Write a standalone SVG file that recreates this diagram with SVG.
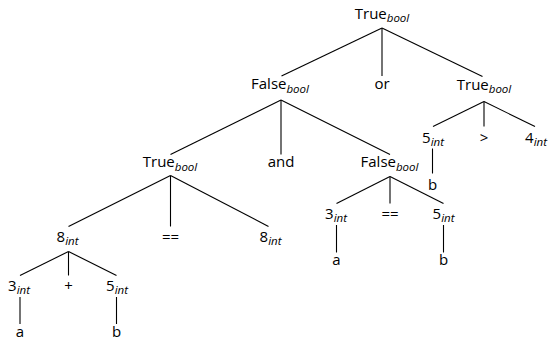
<svg xmlns="http://www.w3.org/2000/svg" width="549" height="339" viewBox="0 0 549 339">
  <style>
    text { font-family: "Open Sans", "Noto Sans", "Liberation Sans", sans-serif; font-size: 15px; fill: #000; text-anchor: middle; }
    .sub { font-style: italic; font-size: 11.5px; }
    .edges line { stroke: #000; stroke-width: 1.1; fill: none; }
  </style>
  <rect width="549" height="339" fill="#fff"/>

  <g id="edges" class="edges">
    <!-- root -->
    <line x1="382" y1="28" x2="281.5" y2="76"/>
    <line x1="382" y1="28" x2="382" y2="76"/>
    <line x1="382" y1="28" x2="482.5" y2="76.5"/>
    <!-- False (or-left) -->
    <line x1="281" y1="100" x2="170.5" y2="154.5"/>
    <line x1="281" y1="100" x2="281" y2="154.5"/>
    <line x1="281" y1="100" x2="390" y2="154.5"/>
    <!-- True (or-right) -->
    <line x1="484" y1="101.5" x2="433" y2="126.5"/>
    <line x1="484" y1="101.5" x2="484" y2="126.5"/>
    <line x1="484" y1="101.5" x2="535" y2="126.5"/>
    <line x1="432.5" y1="148.5" x2="432.5" y2="173.5"/>
    <!-- True (and-left) -->
    <line x1="170.5" y1="175.5" x2="68.5" y2="226.5"/>
    <line x1="170.5" y1="175.5" x2="170.5" y2="226.5"/>
    <line x1="170.5" y1="175.5" x2="268.5" y2="226.5"/>
    <!-- 8 = 3 + 5 -->
    <line x1="68.5" y1="251.5" x2="20" y2="275.5"/>
    <line x1="68.5" y1="251.5" x2="68.5" y2="275.5"/>
    <line x1="68.5" y1="251.5" x2="116.5" y2="275.5"/>
    <line x1="20" y1="297" x2="20" y2="324"/>
    <line x1="116.5" y1="297" x2="116.5" y2="324"/>
    <!-- False (and-right) -->
    <line x1="390" y1="176.5" x2="336.5" y2="203.5"/>
    <line x1="390" y1="176.5" x2="390" y2="203.5"/>
    <line x1="390" y1="176.5" x2="443.5" y2="203.5"/>
    <line x1="336.5" y1="225" x2="336.5" y2="252.5"/>
    <line x1="443.5" y1="225" x2="443.5" y2="252.5"/>
  </g>

  <g id="n-root"><text x="382" y="18.5">True<tspan class="sub" dy="3.5">bool</tspan></text></g>

  <g id="n-false-or"><text x="280" y="89">False<tspan class="sub" dy="3.5">bool</tspan></text></g>
  <g id="n-or"><text x="382" y="89">or</text></g>
  <g id="n-true-or"><text x="484" y="89.5">True<tspan class="sub" dy="3.5">bool</tspan></text></g>

  <g id="n-5-gt"><text x="433" y="142.5">5<tspan class="sub" dy="3">int</tspan></text></g>
  <g id="n-gt"><text x="484" y="142.5">&gt;</text></g>
  <g id="n-4-gt"><text x="536" y="142.5">4<tspan class="sub" dy="3">int</tspan></text></g>
  <g id="n-b-gt"><text x="432.5" y="189.5">b</text></g>

  <g id="n-true-and"><text x="170" y="167">True<tspan class="sub" dy="3.5">bool</tspan></text></g>
  <g id="n-and"><text x="281" y="167">and</text></g>
  <g id="n-false-and"><text x="389.5" y="167">False<tspan class="sub" dy="3.5">bool</tspan></text></g>

  <g id="n-8-left"><text x="67.5" y="241.5">8<tspan class="sub" dy="3">int</tspan></text></g>
  <g id="n-eq-left"><text x="170.5" y="241.5">==</text></g>
  <g id="n-8-right"><text x="270.5" y="241.5">8<tspan class="sub" dy="3">int</tspan></text></g>

  <g id="n-3-plus"><text x="19" y="291">3<tspan class="sub" dy="3">int</tspan></text></g>
  <g id="n-plus"><text x="68.5" y="291">+</text></g>
  <g id="n-5-plus"><text x="117" y="291">5<tspan class="sub" dy="3">int</tspan></text></g>
  <g id="n-a-plus"><text x="20" y="336.5">a</text></g>
  <g id="n-b-plus"><text x="116.5" y="336.5">b</text></g>

  <g id="n-3-eq"><text x="336" y="219">3<tspan class="sub" dy="3">int</tspan></text></g>
  <g id="n-eq-right"><text x="390" y="219">==</text></g>
  <g id="n-5-eq"><text x="443.5" y="219">5<tspan class="sub" dy="3">int</tspan></text></g>
  <g id="n-a-eq"><text x="336.5" y="265">a</text></g>
  <g id="n-b-eq"><text x="443.5" y="265">b</text></g>
</svg>
